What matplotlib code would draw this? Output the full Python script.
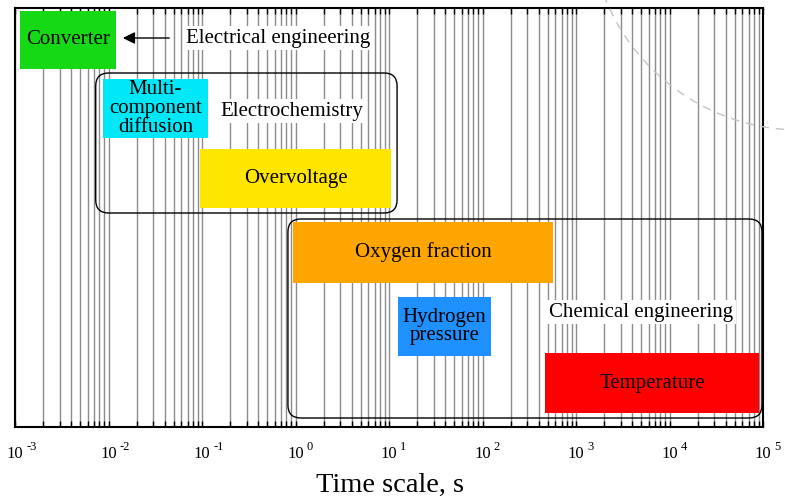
import numpy as np
import matplotlib.pyplot as plt
from matplotlib.patches import FancyBboxPatch, Arc
from matplotlib.transforms import IdentityTransform

plt.rcParams['font.family'] = 'Liberation Serif'

# processes and their time scales (seconds)
names = ['Converter', 'Multi-\ncomponent\ndiffusion', 'Overvoltage',
         'Oxygen fraction', 'Hydrogen\npressure', 'Temperature']
t_start = [1.13e-3, 8.7e-3, 0.095, 0.94, 12.5, 466]
t_end = [0.012, 0.116, 10.5, 568, 123, 9.06e4]
colors = ['#14d914', '#00e8f8', '#ffe600', '#ffa500', '#1e90ff', '#ff0000']

# discipline groups
groups = ['Electrochemistry', 'Chemical engineering']
g_start = [7.3e-3, 0.83]
g_end = [12.2, 9.75e4]

ticks = [1e-3, 1e-2, 1e-1, 1e0, 1e1, 1e2, 1e3, 1e4, 1e5]
exponents = ['-3', '-2', '-1', '0', '1', '2', '3', '4', '5']

# vertical layout (y runs 0 at top to 419 at bottom)
rows = [(3, 61), (71, 130), (141, 200), (214, 275), (289, 348), (345, 405)]
g_rows = [(65, 205), (211, 410)]
g_label_pos = [(0.92, 103), (4960, 304)]

fig = plt.figure(figsize=(7.85, 4.98), dpi=100)
ax = fig.add_axes([15 / 785, 71 / 498, 748 / 785, 419 / 498])
ax.set_xscale('log')
ax.set_xlim(1e-3, 1e5)
ax.set_ylim(419, 0)
ax.set_yticks([])
ax.set_xticks(ticks)
ax.set_xticklabels([])
ax.xaxis.set_minor_locator(plt.matplotlib.ticker.LogLocator(base=10, subs=np.arange(2, 10)))
ax.xaxis.set_minor_formatter(plt.NullFormatter())
ax.tick_params(axis='x', which='both', direction='in', top=True, length=4, width=1)
ax.grid(which='both', axis='x', color='#8c8c8c', lw=1.0)
ax.set_axisbelow(True)
for s in ax.spines.values():
    s.set_linewidth(1.5)

# tick labels: "10" centred on the tick, exponent raised to the right
for t, e in zip(ticks, exponents):
    ax.annotate('10', xy=(t, 0), xycoords=('data', 'axes fraction'), xytext=(0, -22.3),
                textcoords='offset points', ha='center', va='baseline', fontsize=12)
    ax.annotate(e, xy=(t, 0), xycoords=('data', 'axes fraction'), xytext=(8.2, -16.4),
                textcoords='offset points', ha='left', va='baseline', fontsize=9)

# group boxes (rounded, drawn in pixels so corners stay round)
for g, a, b, (y0, y1), (lx, ly) in zip(groups, g_start, g_end, g_rows, g_label_pos):
    p0 = ax.transData.transform((a, y1))
    p1 = ax.transData.transform((b, y0))
    box = FancyBboxPatch((p0[0], p0[1]), p1[0] - p0[0], p1[1] - p0[1],
                         boxstyle='round,pad=0,rounding_size=13',
                         transform=IdentityTransform(), fc='none', ec='black', lw=1.0, zorder=2)
    ax.add_patch(box)
    ax.text(lx, ly, g, fontsize=15, ha='center', va='center', zorder=4,
            bbox=dict(fc='white', ec='none', pad=2))

# process bars
for n, a, b, c, (y0, y1) in zip(names, t_start, t_end, colors, rows):
    ax.barh((y0 + y1) / 2, b - a, left=a, height=y1 - y0, color=c, zorder=3)
    ax.text(np.sqrt(a * b), (y0 + y1) / 2, n, fontsize=15, ha='center', va='center',
            linespacing=0.97, zorder=4)

# electrical engineering label with arrow to converter
ax.text(0.65, 30, 'Electrical engineering', fontsize=15, ha='center', va='center', zorder=4,
        bbox=dict(fc='white', ec='none', pad=2))
ax.annotate('', xy=(0.0133, 30), xytext=(0.0478, 30),
            arrowprops=dict(arrowstyle='-|>', color='black', lw=1, mutation_scale=18), zorder=4)

ax.set_xlabel('Time scale, s', fontsize=20.5, va='baseline')
ax.xaxis.set_label_coords(0.501, -0.155)

# decorative dashed arc in top right corner
arc = Arc((8.0, 5.78), 4.2, 4.2, theta1=180, theta2=270, transform=fig.dpi_scale_trans,
          ls=(0, (6, 5)), color='#c4c4c4', lw=1.0)
fig.add_artist(arc)

fig.savefig('out.png', dpi=100)
